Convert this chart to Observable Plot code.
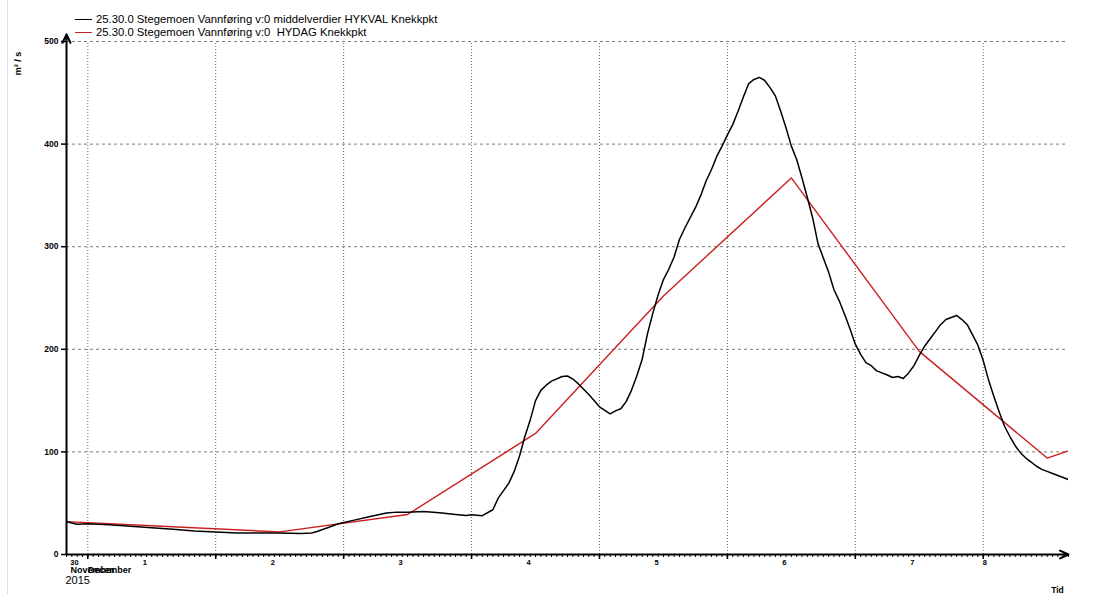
<!DOCTYPE html>
<html>
<head>
<meta charset="utf-8">
<script src="https://cdn.jsdelivr.net/npm/d3@7"></script>
<script src="https://cdn.jsdelivr.net/npm/@observablehq/plot@0.6"></script>
<style>
  body { margin: 0; background: #fff; }
  #wrap { position: relative; width: 1099px; height: 594px; overflow: hidden; font-family: "Liberation Sans", Arial, sans-serif; }
  .edge { position: absolute; left: 7px; top: 0; width: 1px; height: 594px; background: #d4e2f0; }
  .leg { position: absolute; left: 75px; height: 13px; font-size: 11.3px; line-height: 13px; color: #000; white-space: pre; }
  .leg .sw { display: inline-block; width: 17px; height: 0; border-top: 1.5px solid; vertical-align: middle; margin-right: 4px; position: relative; top: -1px; }
  #chart { position: absolute; left: 0; top: 0; }
</style>
</head>
<body>
<div id="wrap">
  <div class="edge"></div>
  <div id="chart"></div>
  <div id="legend"></div>
</div>
<script>
// ---- Data ----
const seriesNames = [
  "25.30.0 Stegemoen Vannføring v:0 middelverdier HYKVAL Knekkpkt",
  "25.30.0 Stegemoen Vannføring v:0  HYDAG Knekkpkt"
];
const seriesColors = ["#000000", "#cc2020"];

// hours relative to 2015-12-01 00:00
const blackHours = [-4, -2, 0, 4, 8, 12, 16, 20, 24, 28, 32, 36, 40, 42, 43, 45, 47, 50, 53, 56, 58, 60, 63, 66, 69, 71, 72, 74, 76, 77, 79, 80, 81, 82, 83, 84, 85, 86, 87, 89, 90, 91, 92, 94, 96, 98, 99, 100, 101, 102, 103, 104, 105, 106, 107, 108, 109, 110, 111, 112, 114, 115, 116, 117, 118, 119, 120, 121, 122, 123, 124, 125, 126, 127, 128, 129, 130, 131, 132, 133, 134, 135, 136, 137, 138, 139, 140, 141, 142, 143, 144, 145, 146, 147, 148, 149, 150, 151, 152, 153, 154, 155, 156, 157, 158, 159, 160, 161, 162, 163, 164, 165, 166, 167, 168, 169, 170, 171, 172, 173, 174, 175, 176, 177, 178, 179, 180, 181, 182, 183, 184];
const blackValues = [32, 29.5, 30, 29, 27.5, 26, 24.5, 23, 22, 21, 21, 21, 20.5, 21, 22.5, 26, 30, 33.5, 37, 40.5, 41.3, 41.3, 42, 40.7, 39, 38, 38.7, 37.8, 43.6, 55, 69.6, 81, 96, 115, 131, 150, 160, 165, 169, 173.5, 174, 171, 166.5, 156, 144, 137, 140, 142, 149, 160, 174, 190, 215, 235, 253, 268, 278, 290, 307, 318, 338, 350, 364, 375, 388, 398, 409, 419, 432, 446, 459, 463, 465, 462, 455, 447, 432, 416, 398, 385, 367, 348, 328, 303, 289, 275, 258, 247, 234, 220, 205, 195, 187, 184, 179, 177, 175, 172.5, 173.5, 171.5, 177, 184, 194, 203, 210, 217, 224, 229, 231, 233, 229, 224, 214, 204, 189, 170, 154, 139, 125, 115, 106, 99, 94, 90, 86, 83, 81, 79, 77, 75, 73];

const redHours = [-4, 12, 36, 60, 84, 108, 132, 156, 180, 184];
const redValues = [32, 28, 22, 39, 118, 252, 367, 198, 94, 101];

const yTicks = [0, 100, 200, 300, 400, 500];
const dayLabels = ["30", "1", "2", "3", "4", "5", "6", "7", "8"];
const dayLabelHours = [-2.5, 10.7, 34.7, 58.7, 82.7, 106.7, 130.7, 154.7, 168.3];
const monthLabels = ["November", "December"];
const yearLabel = "2015";
const yUnit = "m³ / s";
const xTitle = "Tid";

// ---- Build ----
const base = Date.UTC(2015, 11, 1);
const t = h => new Date(base + h * 3600e3);
const x0 = t(-4), x1 = t(184);

const black = blackHours.map((h, i) => ({ time: t(h), value: blackValues[i] }));
const red = redHours.map((h, i) => ({ time: t(h), value: redValues[i] }));
const dayLines = d3.utcDays(t(0), t(185));
const hourTicks = d3.utcHours(x0, t(184.5));
const labels = dayLabels.map((s, i) => ({ time: t(dayLabelHours[i]), text: s }));

const chart = Plot.plot({
  width: 1099,
  height: 594,
  marginLeft: 66,
  marginRight: 31,
  marginTop: 41,
  marginBottom: 40,
  x: { type: "utc", domain: [x0, x1] },
  y: { domain: [0, 500] },
  style: { fontFamily: "'Liberation Sans', Arial, sans-serif", background: "transparent", color: "#000" },
  marks: [
    Plot.ruleY(yTicks.filter(v => v > 0), { stroke: "#7a7a7a", strokeDasharray: "3,3", strokeWidth: 1 }),
    Plot.ruleX(dayLines, { y1: 0, y2: 500, stroke: "#666", strokeDasharray: "1,2", strokeWidth: 1 }),
    Plot.axisY({ ticks: yTicks, tickSize: 5, tickPadding: 3, fontSize: 8.5, fontWeight: "bold", label: null, tickFormat: d => String(d), strokeWidth: 1.5 }),
    Plot.axisX({ ticks: hourTicks, tickSize: 3, tickFormat: () => "", label: null, strokeWidth: 1 }),
    Plot.axisX({ ticks: dayLines, tickSize: 5, tickFormat: () => "", label: null, strokeWidth: 1.6 }),
    Plot.line(red, { x: "time", y: "value", stroke: seriesColors[1], strokeWidth: 1.4, clip: true }),
    Plot.line(black, { x: "time", y: "value", stroke: seriesColors[0], strokeWidth: 1.5, clip: true }),
    Plot.arrow([{ a: x0, b: 0, c: x0, d: 507 }], { x1: "a", y1: "b", x2: "c", y2: "d", stroke: "#000", strokeWidth: 2, headLength: 7, headAngle: 50 }),
    Plot.arrow([{ a: x0, b: 0, c: x1, d: 0 }], { x1: "a", y1: "b", x2: "c", y2: "d", stroke: "#000", strokeWidth: 2, headLength: 7, headAngle: 50 }),
    Plot.text(labels, { x: "time", y: 0, text: "text", dy: 8, fontSize: 7.5, fontWeight: "bold", textAnchor: "middle", lineAnchor: "middle" }),
    Plot.text([monthLabels[0]], { x: () => x0, y: 0, text: d => d, dx: 4, dy: 16, fontSize: 9, fontWeight: "bold", textAnchor: "start", lineAnchor: "middle" }),
    Plot.text([monthLabels[1]], { x: () => t(0), y: 0, text: d => d, dx: 0, dy: 16, fontSize: 9, fontWeight: "bold", textAnchor: "start", lineAnchor: "middle" }),
    Plot.text([yearLabel], { x: () => x0, y: 0, text: d => d, dx: -1, dy: 26, fontSize: 11, textAnchor: "start", lineAnchor: "middle" }),
    Plot.text([yUnit], { frameAnchor: "top-left", text: d => d, dx: -48, dy: 22, rotate: -90, fontSize: 9, fontWeight: "bold", textAnchor: "middle", lineAnchor: "middle" }),
    Plot.text([xTitle], { frameAnchor: "bottom-right", text: d => d, dx: -11, dy: 36, fontSize: 8.5, fontWeight: "bold", textAnchor: "middle", lineAnchor: "middle" })
  ]
});
document.getElementById("chart").appendChild(chart);

// legend
const leg = document.getElementById("legend");
seriesNames.forEach((name, i) => {
  const d = document.createElement("div");
  d.className = "leg";
  d.style.top = (13 + i * 13) + "px";
  d.innerHTML = `<span class="sw" style="border-color:${seriesColors[i]}"></span>`;
  d.appendChild(document.createTextNode(name));
  leg.appendChild(d);
});
</script>
</body>
</html>
